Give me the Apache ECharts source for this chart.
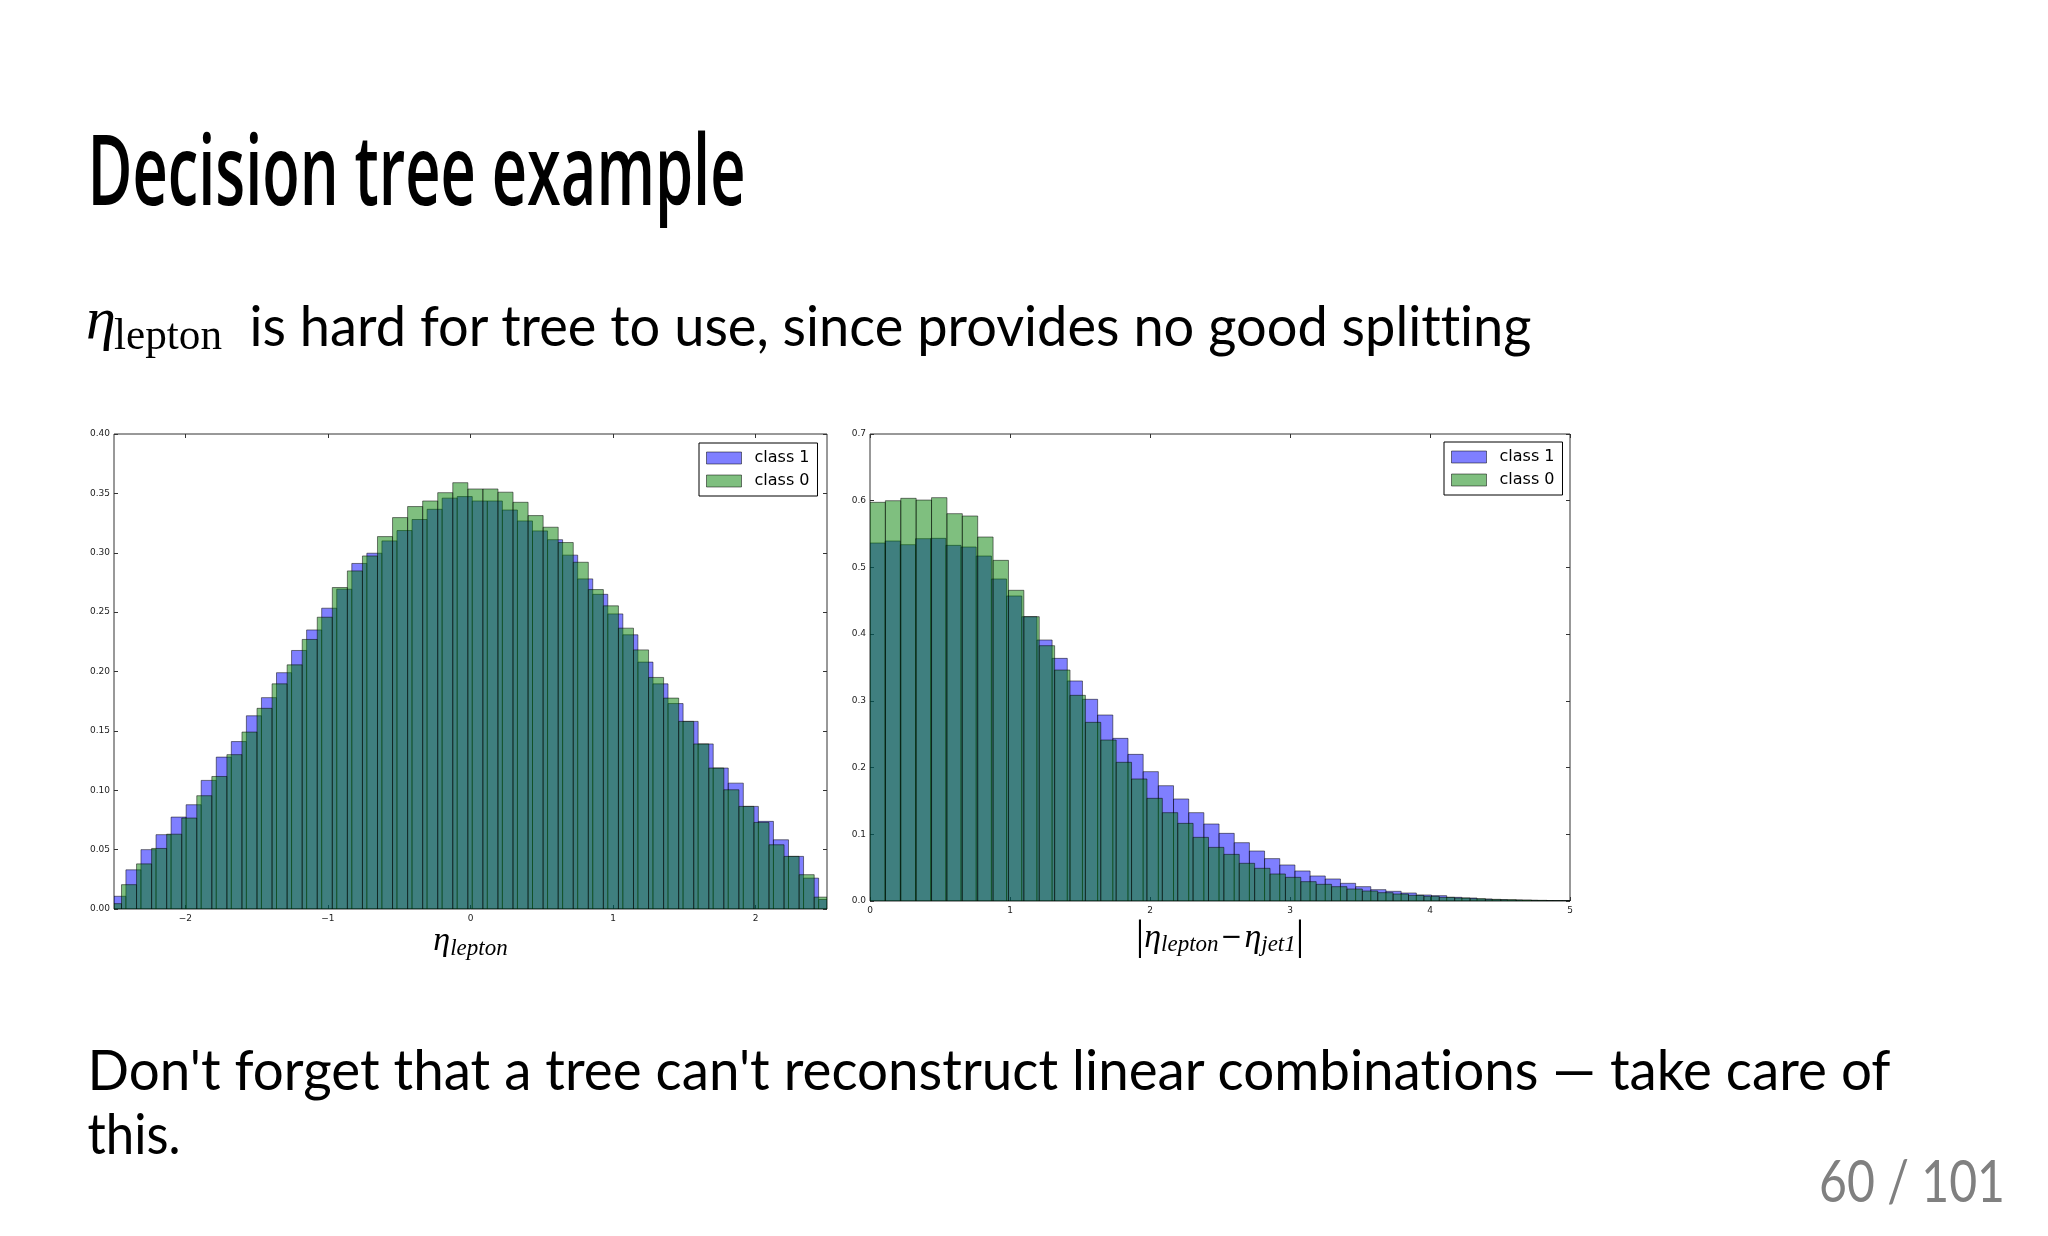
<!DOCTYPE html>
<html><head><meta charset="utf-8">
<script src="https://cdn.jsdelivr.net/npm/echarts@6/dist/echarts.min.js"></script>
<style>
html,body{margin:0;padding:0;background:#fff;width:2048px;height:1236px;overflow:hidden}
#chart{position:absolute;left:0;top:0;width:2048px;height:1236px}
#slide{position:absolute;left:0;top:0;pointer-events:none;font-variant-ligatures:none;font-feature-settings:"liga" 0}
</style></head><body>
<div id="chart"></div>
<svg id="slide" width="2048" height="1236" xmlns="http://www.w3.org/2000/svg">
  <text x="87.5" y="205" font-family="Open Sans" font-weight="600" font-size="98" textLength="658" lengthAdjust="spacingAndGlyphs" fill="#000">Decision tree example</text>
  <text x="86" y="338" font-family="Liberation Serif" font-style="italic" font-size="60" fill="#000">η</text>
  <text x="114" y="349" font-family="Liberation Serif" font-size="45" textLength="108" lengthAdjust="spacingAndGlyphs" fill="#000">lepton</text>
  <text x="249.5" y="346" font-family="Lato" font-size="57" textLength="1282" lengthAdjust="spacingAndGlyphs" fill="#000">is hard for tree to use, since provides no good splitting</text>
  <text x="87.5" y="1090" font-family="Lato" font-size="57" textLength="1803" lengthAdjust="spacingAndGlyphs" fill="#000">Don't forget that a tree can't reconstruct linear combinations — take care of</text>
  <text x="87.5" y="1154" font-family="Lato" font-size="57" textLength="93" lengthAdjust="spacingAndGlyphs" fill="#000">this.</text>
  <text x="1819" y="1202" font-family="Lato" font-size="58" textLength="186" lengthAdjust="spacingAndGlyphs" fill="#808080">60 / 101</text>
</svg>
<script>
// ---------- data ----------
const seriesNames = ['class 1', 'class 0'];

// left histogram: eta_lepton (normalised), bin edges
const leftXTicks = [-2, -1, 0, 1, 2];
const leftBinWidth = 0.1056;
const leftClass1Start = -2.522;
const leftClass0Start = -2.553;
const leftClass1 = [0.0107,0.033,0.050,0.0626,0.0774,0.0878,0.1083,0.1279,0.141,0.1627,
  0.178,0.199,0.2177,0.235,0.2533,0.2693,0.291,0.2996,0.310,0.3187,
  0.328,0.3366,0.346,0.3473,0.3436,0.3436,0.336,0.3268,0.3184,0.311,
  0.298,0.278,0.265,0.2485,0.2309,0.2079,0.1896,0.173,0.158,0.139,
  0.1187,0.106,0.0864,0.0738,0.0583,0.0443,0.026,0.008];
const leftClass0 = [0.0045,0.0205,0.038,0.051,0.063,0.0766,0.0954,0.1116,0.130,0.149,
  0.169,0.1896,0.2056,0.227,0.2457,0.2707,0.2847,0.2973,0.3136,0.3296,
  0.3389,0.3436,0.3506,0.359,0.3537,0.3537,0.351,0.3425,0.3313,0.3215,
  0.3086,0.292,0.269,0.2553,0.2365,0.2182,0.195,0.1776,0.158,0.139,
  0.1187,0.1004,0.0864,0.0729,0.0541,0.0443,0.0289,0.010];

// right histogram: |eta_lepton - eta_jet1|
const rightClass1Start = 0;
const rightClass1Width = 0.1084;
const rightClass0Start = 0;
const rightClass0Width = 0.1099;
const rightClass1 = [0.5366,0.5396,0.5341,0.5431,0.5436,0.5331,0.5306,0.5171,0.4827,0.4572,
  0.4262,0.3912,0.3637,0.3298,0.3023,0.2788,0.2438,0.2198,0.1939,0.1728,
  0.1529,0.1324,0.1154,0.1014,0.0874,0.0749,0.0635,0.054,0.045,0.0375,
  0.033,0.0265,0.0215,0.017,0.0145,0.012,0.009,0.008,0.0055,0.0045,
  0.003,0.002,0.0015,0.001,0.0007,0.0005,0.0003];
const rightClass0 = [0.5976,0.600,0.6036,0.601,0.6046,0.5806,0.5771,0.5456,0.5106,0.4657,
  0.4262,0.3827,0.3462,0.3083,0.2678,0.2413,0.2079,0.1829,0.1539,0.1324,
  0.1164,0.0954,0.0804,0.0699,0.0565,0.049,0.0405,0.0355,0.029,0.025,
  0.0215,0.018,0.015,0.0125,0.0105,0.0085,0.007,0.0055,0.0045,0.0035,
  0.0025,0.002,0.0015,0.001,0.0007,0.0005];

// ---------- chart ----------
const C1 = 'rgba(0,0,255,0.5)';
const C0 = 'rgba(0,128,0,0.5)';
const EDGE = 'rgba(0,0,0,0.5)';
const AX = '#333';

function bins(start, width, heights) {
  return heights.map((h, i) => [start + i * width, start + (i + 1) * width, h]);
}
function renderHist(fill) {
  return function (params, api) {
    const a = api.coord([api.value(0), api.value(2)]);
    const b = api.coord([api.value(1), 0]);
    const cs = params.coordSys;
    const r = echarts.graphic.clipRectByRect(
      {x: a[0], y: a[1], width: b[0] - a[0], height: b[1] - a[1]},
      {x: cs.x, y: cs.y, width: cs.width, height: cs.height});
    if (!r) return null;
    return {type: 'rect', shape: r, style: {fill: fill, stroke: EDGE, lineWidth: 1}};
  };
}
const minus = v => (v < 0 ? '\u2212' + Math.abs(v) : String(v));
const tickFont = {fontSize: 9, color: '#222', fontFamily: 'DejaVu Sans'};

function xAxes(grid, min, max, ticks, interval) {
  const common = {gridIndex: grid, type: 'value', min: min, max: max,
    splitLine: {show: false}, axisLine: {show: false, onZero: false}};
  if (interval) common.interval = interval;
  const tickCfg = {show: true, inside: true, length: 4, lineStyle: {color: AX}};
  if (ticks) tickCfg.customValues = ticks;
  const lab = Object.assign({show: true, margin: 5, formatter: minus}, tickFont);
  if (ticks) lab.customValues = ticks;
  return [
    Object.assign({}, common, {position: 'bottom', axisTick: tickCfg, axisLabel: lab}),
    Object.assign({}, common, {position: 'top', axisTick: tickCfg, axisLabel: {show: false}})
  ];
}
function yAxes(grid, max, interval, dec) {
  const common = {gridIndex: grid, type: 'value', min: 0, max: max, interval: interval,
    splitLine: {show: false}, axisLine: {show: false, onZero: false},
    axisTick: {show: true, inside: true, length: 4, lineStyle: {color: AX}}};
  return [
    Object.assign({}, common, {position: 'left',
      axisLabel: Object.assign({margin: 4, formatter: v => v.toFixed(dec)}, tickFont)}),
    Object.assign({}, common, {position: 'right', axisLabel: {show: false}})
  ];
}
const la = xAxes(0, -2.5, 2.5, leftXTicks, null);
const ra = xAxes(1, 0, 5, null, 1);
const ly = yAxes(0, 0.4, 0.05, 2);
const ry = yAxes(1, 0.7, 0.1, 1);

const etaRich = {
  e: {fontFamily: 'Liberation Serif', fontStyle: 'italic', fontSize: 34, color: '#000'},
  s: {fontFamily: 'Liberation Serif', fontStyle: 'italic', fontSize: 23, color: '#000', padding: [14, 0, 0, 0]},
  t: {fontFamily: 'DejaVu Sans', fontSize: 26, color: '#000', padding: [0, 2, 0, 2]},
  b: {fontFamily: 'Liberation Serif', fontSize: 42, color: '#000'}
};
la[0].name = '{e|η}{s|lepton}';
la[0].nameLocation = 'middle';
la[0].nameGap = 14;
la[0].nameTextStyle = {rich: etaRich};
ra[0].name = '{b||}{e|η}{s|lepton}{t|−}{e|η}{s|jet1}{b||}';
ra[0].nameLocation = 'middle';
ra[0].nameGap = 16;
ra[0].nameTextStyle = {rich: etaRich};

function legend(left, top) {
  return {
    left: left, top: top, orient: 'vertical', selectedMode: false,
    itemWidth: 35, itemHeight: 12, itemGap: 7, padding: [7, 8, 7, 7],
    borderColor: '#000', borderWidth: 1, backgroundColor: '#fff', borderRadius: 0,
    textStyle: {fontSize: 16, color: '#000', fontFamily: 'DejaVu Sans', padding: [0, 0, 0, 8]},
    data: [
      {name: seriesNames[0], icon: 'rect', itemStyle: {color: C1, borderColor: EDGE, borderWidth: 1}},
      {name: seriesNames[1], icon: 'rect', itemStyle: {color: C0, borderColor: EDGE, borderWidth: 1}}
    ]
  };
}

function histSeries(name, xi, yi, data, fill) {
  return {
    type: 'custom', name: name, xAxisIndex: xi, yAxisIndex: yi,
    renderItem: renderHist(fill), data: data, clip: true,
    encode: {x: [0, 1], y: 2},
    itemStyle: {color: fill, borderColor: EDGE, borderWidth: 1},
    silent: true, animation: false
  };
}

const chart = echarts.init(document.getElementById('chart'), null, {renderer: 'canvas'});
chart.setOption({
  animation: false,
  backgroundColor: '#fff',
  grid: [
    {left: 114, top: 434, width: 713, height: 475, show: true, borderColor: AX, borderWidth: 1, backgroundColor: 'transparent', containLabel: false},
    {left: 870, top: 434, width: 700, height: 467, show: true, borderColor: AX, borderWidth: 1, backgroundColor: 'transparent', containLabel: false}
  ],
  xAxis: [la[0], la[1], ra[0], ra[1]],
  yAxis: [ly[0], ly[1], ry[0], ry[1]],
  legend: [legend(699, 443), legend(1444, 442)],
  series: [
    histSeries(seriesNames[0], 0, 0, bins(leftClass1Start, leftBinWidth, leftClass1), C1),
    histSeries(seriesNames[1], 0, 0, bins(leftClass0Start, leftBinWidth, leftClass0), C0),
    histSeries(seriesNames[0], 2, 2, bins(rightClass1Start, rightClass1Width, rightClass1), C1),
    histSeries(seriesNames[1], 2, 2, bins(rightClass0Start, rightClass0Width, rightClass0), C0)
  ]
});
</script>
</body></html>
